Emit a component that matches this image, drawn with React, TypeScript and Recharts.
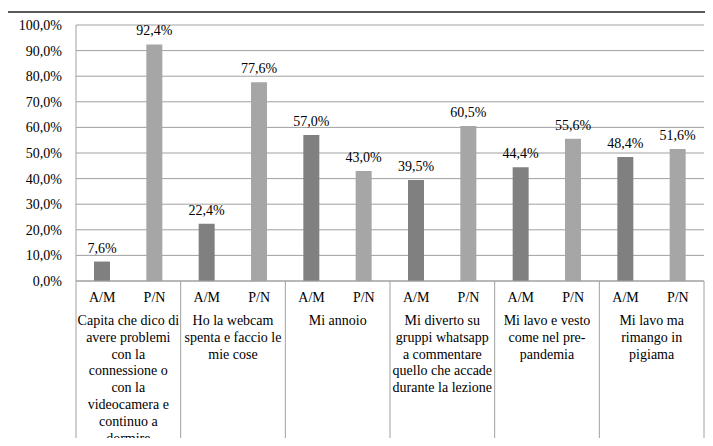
import React from 'react';
import { BarChart, Bar, XAxis, YAxis, CartesianGrid, Cell, LabelList } from 'recharts';

const groups = [
  'Capita che dico di\navere problemi\ncon la\nconnessione o\ncon la\nvideocamera e\ncontinuo a\ndormire',
  'Ho la webcam\nspenta e faccio le\nmie cose',
  'Mi annoio',
  'Mi diverto su\ngruppi whatsapp\na commentare\nquello che accade\ndurante la lezione',
  'Mi lavo e vesto\ncome nel pre-\npandemia',
  'Mi lavo ma\nrimango in\npigiama',
];
const seriesNames = ['A/M', 'P/N'];
const amValues = [7.6, 22.4, 57.0, 39.5, 44.4, 48.4];
const pnValues = [92.4, 77.6, 43.0, 60.5, 55.6, 51.6];
const yTicks = [0, 10, 20, 30, 40, 50, 60, 70, 80, 90, 100];

const WIDTH = 713;
const HEIGHT = 446;
const MARGIN = { top: 25, right: 9, bottom: 0, left: 0 };
const Y_AXIS_WIDTH = 76;
const X_AXIS_HEIGHT = 165;
const FONT = 'Liberation Serif, DejaVu Serif, serif';
const GRID = '#a0a0a0';
const COLORS = ['#808080', '#a6a6a6'];

// one row per bar: A/M then P/N for each statement
const rows = groups.flatMap((group, i) => [
  { sub: seriesNames[0], group, value: amValues[i], series: 0 },
  { sub: seriesNames[1], group, value: pnValues[i], series: 1 },
]);

const PLOT_WIDTH = WIDTH - MARGIN.left - MARGIN.right - Y_AXIS_WIDTH;
const BAND = PLOT_WIDTH / rows.length;

const pct = (v: number) => v.toFixed(1).replace('.', ',') + '%';

const textStyle = { fontFamily: FONT, fontSize: 14, fill: '#000' };

// two-level category axis: series code under each bar, statement under each pair
function CategoryTick(props: any) {
  const { x, y, payload } = props;
  const i = props.index ?? payload.index;
  const row = rows[i];
  const first = i % 2 === 0;
  const last = i === rows.length - 1;
  const lines = row.group.split('\n');
  const cx = x + BAND / 2;
  return (
    <g>
      <text x={x} y={y + 21} textAnchor="middle" style={textStyle}>
        {row.sub}
      </text>
      {first && <line x1={x - BAND / 2} x2={x - BAND / 2} y1={y} y2={y + 170} stroke={GRID} />}
      {last && <line x1={x + BAND / 2} x2={x + BAND / 2} y1={y} y2={y + 170} stroke={GRID} />}
      {first && (
        <text x={cx} y={y + 44} textAnchor="middle" style={textStyle}>
          {lines.map((l, k) => (
            <tspan key={k} x={cx} dy={k === 0 ? 0 : 16.8}>
              {l}
            </tspan>
          ))}
        </text>
      )}
    </g>
  );
}

export default function App() {
  return (
    <div style={{ position: 'relative', margin: -8, width: WIDTH, height: HEIGHT, overflow: 'hidden', background: '#fff', fontFamily: FONT }}>
      <div
        style={{
          position: 'absolute',
          left: 6,
          top: 11,
          width: WIDTH + 20,
          height: HEIGHT + 20,
          border: '2px solid #595959',
        }}
      />
      <div style={{ position: 'absolute', left: 0, top: 0 }}>
        <BarChart width={WIDTH} height={HEIGHT} data={rows} margin={MARGIN} barCategoryGap={0} style={{ fontFamily: FONT }}>
          <CartesianGrid vertical={false} stroke={GRID} />
          <XAxis
            dataKey="sub"
            interval={0}
            height={X_AXIS_HEIGHT}
            tickLine={false}
            tickSize={0}
            tickMargin={0}
            axisLine={{ stroke: GRID }}
            tick={<CategoryTick />}
          />
          <YAxis
            width={Y_AXIS_WIDTH}
            domain={[0, 100]}
            ticks={yTicks}
            tickFormatter={pct}
            tickLine={false}
            tickSize={0}
            tickMargin={14}
            axisLine={{ stroke: GRID }}
            tick={textStyle}
          />
          <Bar dataKey="value" barSize={16} isAnimationActive={false}>
            {rows.map((r, i) => (
              <Cell key={i} fill={COLORS[r.series]} />
            ))}
            <LabelList
              dataKey="value"
              position="top"
              offset={9}
              formatter={(v: any) => pct(Number(v))}
              style={textStyle}
            />
          </Bar>
        </BarChart>
      </div>
    </div>
  );
}
